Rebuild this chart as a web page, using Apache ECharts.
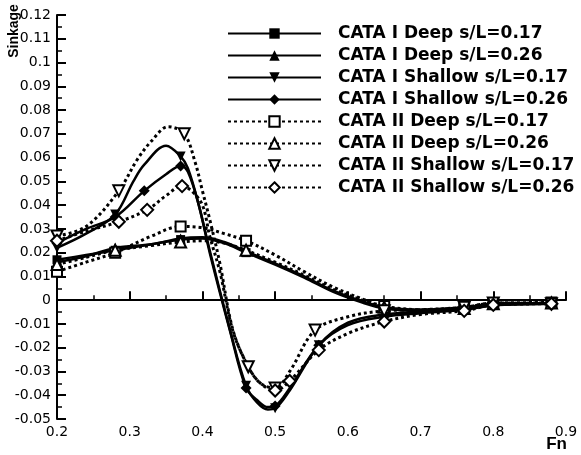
<!DOCTYPE html>
<html><head><meta charset="utf-8">
<script src="https://cdn.jsdelivr.net/npm/echarts@6/dist/echarts.min.js"></script>
<style>html,body{margin:0;padding:0;background:#fff}#c{width:581px;height:455px}</style>
</head><body><div id="c"></div><script>
// ---- data ----
const seriesNames = [
  'CATA I Deep s/L=0.17', 'CATA I Deep s/L=0.26',
  'CATA I Shallow s/L=0.17', 'CATA I Shallow s/L=0.26',
  'CATA II Deep s/L=0.17', 'CATA II Deep s/L=0.26',
  'CATA II Shallow s/L=0.17', 'CATA II Shallow s/L=0.26'
];
const xTicks = [0.2, 0.3, 0.4, 0.5, 0.6, 0.7, 0.8, 0.9];
const yTicks = [-0.05, -0.04, -0.03, -0.02, -0.01, 0, 0.01, 0.02, 0.03, 0.04, 0.05, 0.06, 0.07, 0.08, 0.09, 0.1, 0.11, 0.12];

// deep runs share Fn nodes
const deepFn      = [0.2, 0.24, 0.28, 0.33, 0.37, 0.4, 0.43, 0.46, 0.5, 0.54, 0.58, 0.62, 0.65, 0.7, 0.76, 0.8, 0.88];
const deepMarkFn  = [0.2, 0.28, 0.37, 0.46, 0.65, 0.76, 0.8, 0.88];
const cataIDeep017  = [0.017, 0.019, 0.021, 0.0235, 0.0255, 0.026, 0.024, 0.020, 0.015, 0.0095, 0.0035, -0.001, -0.0035, -0.0045, -0.0035, -0.002, -0.0015];
const cataIDeep026  = [0.016, 0.0185, 0.022, 0.0235, 0.026, 0.0265, 0.0245, 0.0205, 0.0155, 0.010, 0.004, -0.0005, -0.003, -0.004, -0.003, -0.0018, -0.0012];
const cataIIDeep017 = [0.012, 0.016, 0.020, 0.027, 0.031, 0.0305, 0.028, 0.025, 0.019, 0.012, 0.0055, 0.0005, -0.0025, -0.004, -0.003, -0.0012, -0.001];
const cataIIDeep026 = [0.015, 0.018, 0.021, 0.023, 0.0245, 0.025, 0.024, 0.021, 0.016, 0.0105, 0.0045, 0, -0.003, -0.0045, -0.0035, -0.0015, -0.0012];

// shallow runs
const cataIShallow017Fn   = [0.2, 0.24, 0.28, 0.305, 0.32, 0.35, 0.37, 0.38, 0.395, 0.41, 0.438, 0.46, 0.475, 0.49, 0.5, 0.52, 0.56, 0.6, 0.65, 0.7, 0.76, 0.8, 0.88];
const cataIShallow017     = [0.022, 0.028, 0.036, 0.050, 0.057, 0.065, 0.0605, 0.0555, 0.040, 0.021, -0.0126, -0.036, -0.043, -0.046, -0.0455, -0.038, -0.019, -0.0095, -0.006, -0.005, -0.0035, -0.002, -0.0015];
const cataIShallow017Mark = [0.2, 0.28, 0.37, 0.46, 0.5, 0.56, 0.65, 0.76, 0.8, 0.88];

const cataIShallow026Fn   = [0.2, 0.24, 0.28, 0.32, 0.35, 0.37, 0.38, 0.395, 0.41, 0.438, 0.46, 0.475, 0.49, 0.5, 0.52, 0.56, 0.6, 0.65, 0.7, 0.76, 0.8, 0.88];
const cataIShallow026     = [0.024, 0.030, 0.035, 0.046, 0.053, 0.0565, 0.054, 0.040, 0.020, -0.013, -0.037, -0.042, -0.045, -0.0445, -0.037, -0.019, -0.0105, -0.007, -0.0055, -0.004, -0.0022, -0.0015];
const cataIShallow026Mark = [0.2, 0.28, 0.32, 0.37, 0.46, 0.5, 0.56, 0.65, 0.76, 0.8, 0.88];

const cataIIShallow017Fn   = [0.2, 0.24, 0.285, 0.31, 0.33, 0.353, 0.375, 0.39, 0.4, 0.41, 0.424, 0.442, 0.463, 0.48, 0.5, 0.52, 0.555, 0.6, 0.65, 0.7, 0.76, 0.8, 0.88];
const cataIIShallow017     = [0.027, 0.031, 0.046, 0.059, 0.067, 0.073, 0.070, 0.058, 0.046, 0.034, 0.0155, -0.0126, -0.028, -0.035, -0.037, -0.030, -0.0126, -0.007, -0.0045, -0.004, -0.003, -0.0012, -0.0015];
const cataIIShallow017Mark = [0.2, 0.285, 0.375, 0.463, 0.5, 0.555, 0.65, 0.76, 0.8, 0.88];

const cataIIShallow026Fn   = [0.2, 0.24, 0.285, 0.324, 0.35, 0.372, 0.385, 0.4, 0.41, 0.424, 0.442, 0.463, 0.48, 0.5, 0.52, 0.56, 0.6, 0.65, 0.7, 0.76, 0.8, 0.88];
const cataIIShallow026     = [0.025, 0.029, 0.033, 0.038, 0.044, 0.048, 0.046, 0.040, 0.027, 0.012, -0.013, -0.028, -0.035, -0.038, -0.034, -0.021, -0.014, -0.009, -0.006, -0.0045, -0.002, -0.0015];
const cataIIShallow026Mark = [0.2, 0.285, 0.324, 0.372, 0.5, 0.52, 0.56, 0.65, 0.76, 0.8, 0.88];

// ---- build ----
function pts(fn, s, marks) {
  return fn.map((x, i) => {
    const item = { value: [x, s[i]] };
    if (!marks.some(m => Math.abs(m - x) < 1e-9)) item.symbol = 'none';
    return item;
  });
}
const solid = { color: '#000', width: 2.5, type: 'solid' };
const dotted = { color: '#000', width: 3, type: [3, 3] };
const filled = { color: '#000', borderWidth: 0 };
const open = { color: '#fff', borderColor: '#000', borderWidth: 2 };

function mk(name, data, line, item, symbol, rot, size) {
  return {
    name, type: 'line', data, smooth: 0.35,
    symbol, symbolRotate: rot, symbolSize: size,
    lineStyle: line, itemStyle: item,
    emphasis: { disabled: true }, z: 2
  };
}
const series = [
  mk(seriesNames[0], pts(deepFn, cataIDeep017, deepMarkFn), solid, filled, 'rect', 0, 9),
  mk(seriesNames[1], pts(deepFn, cataIDeep026, deepMarkFn), solid, filled, 'triangle', 0, 10),
  mk(seriesNames[2], pts(cataIShallow017Fn, cataIShallow017, cataIShallow017Mark), solid, filled, 'triangle', 180, 10),
  mk(seriesNames[3], pts(cataIShallow026Fn, cataIShallow026, cataIShallow026Mark), solid, filled, 'diamond', 0, 11),
  mk(seriesNames[4], pts(deepFn, cataIIDeep017, deepMarkFn), dotted, open, 'rect', 0, 10),
  mk(seriesNames[5], pts(deepFn, cataIIDeep026, deepMarkFn), dotted, open, 'triangle', 0, 11),
  mk(seriesNames[6], pts(cataIIShallow017Fn, cataIIShallow017, cataIIShallow017Mark), dotted, open, 'triangle', 180, 11),
  mk(seriesNames[7], pts(cataIIShallow026Fn, cataIIShallow026, cataIIShallow026Mark), dotted, open, 'diamond', 0, 12)
];

const tickFont = { color: '#000', fontFamily: 'DejaVu Sans', fontSize: 14 };
const chart = echarts.init(document.getElementById('c'), null, { renderer: 'canvas' });
chart.setOption({
  animation: false,
  backgroundColor: '#fff',
  grid: { left: 57, right: 15, top: 15, bottom: 36, containLabel: false },
  legend: {
    orient: 'vertical', left: 222, top: 20,
    itemWidth: 93, itemHeight: 13, itemGap: 5,
    data: seriesNames,
    formatter: n => '{g|}{t|' + n + '}',
    textStyle: {
      color: '#000', fontFamily: 'DejaVu Sans', fontWeight: 'bold', fontSize: 17,
      rich: { g: { width: 12 }, t: { color: '#000', fontFamily: 'DejaVu Sans', fontWeight: 'bold', fontSize: 17 } }
    }
  },
  xAxis: {
    type: 'value', min: xTicks[0], max: xTicks[xTicks.length - 1], interval: 0.1,
    axisLine: { lineStyle: { color: '#000', width: 2 } },
    axisTick: { inside: true, length: 9, lineStyle: { color: '#000', width: 2 } },
    minorTick: { show: true, splitNumber: 2, length: 5, lineStyle: { color: '#000', width: 1.5 } },
    axisLabel: Object.assign({ margin: 6 }, tickFont),
    splitLine: { show: false }
  },
  yAxis: {
    type: 'value', min: yTicks[0], max: yTicks[yTicks.length - 1], interval: 0.01,
    axisLine: { show: true, lineStyle: { color: '#000', width: 2 } },
    axisTick: { show: true, inside: true, length: 9, lineStyle: { color: '#000', width: 2 } },
    minorTick: { show: true, splitNumber: 2, length: 5, lineStyle: { color: '#000', width: 1.5 } },
    axisLabel: Object.assign({ margin: 6 }, tickFont),
    splitLine: { show: false }
  },
  graphic: [{
    type: 'text', x: 14, y: 31, rotation: Math.PI / 2,
    style: { text: 'Sinkage', font: 'bold 14px "Liberation Sans"', fill: '#000', textAlign: 'center', textVerticalAlign: 'middle' }
  }, {
    type: 'text', x: 567, y: 436,
    style: { text: 'Fn', font: 'bold 17px "Liberation Sans"', fill: '#000', textAlign: 'right', textVerticalAlign: 'top' }
  }],
  series
});
</script></body></html>
